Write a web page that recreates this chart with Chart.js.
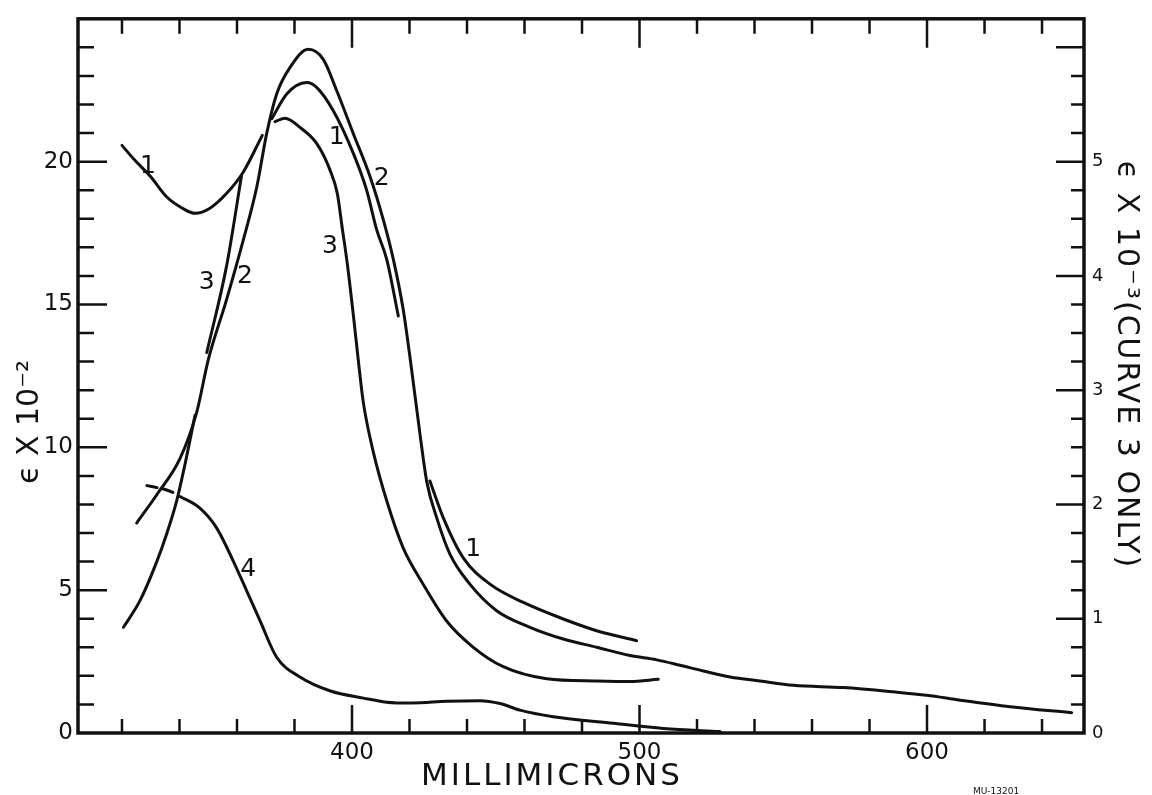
<!DOCTYPE html>
<html>
<head>
<meta charset="utf-8">
<script src="https://cdn.jsdelivr.net/npm/chart.js@4.4.1/dist/chart.umd.min.js"></script>
<style>
  html, body { margin: 0; padding: 0; background: #fff; overflow: hidden; }
  canvas { display: block; }
</style>
</head>
<body>
<canvas id="absChart" width="1152" height="795" style="width:1152px;height:795px"></canvas>
<script>
    'use strict';

    // wavelength (millimicrons) / epsilon x 10^-2
    var c1aNm = [320, 324, 330, 335.5, 341, 345.4, 350.6, 356.4, 362.2, 368.8];
    var c1aEps = [20.57, 20.1, 19.47, 18.77, 18.37, 18.19, 18.37, 18.89, 19.64, 20.92];
    var c1bNm = [372.1, 377.3, 384.2, 387.7, 393.5, 400.5, 405.1, 408.6, 412.1, 416.1];
    var c1bEps = [21.5, 22.37, 22.77, 22.6, 21.78, 20.28, 19.0, 17.61, 16.57, 14.6];
    var c1cNm = [427.1, 431.8, 438.7, 448, 459.6, 473.5, 485.1, 499];
    var c1cEps = [8.82, 7.52, 6.13, 5.21, 4.57, 3.99, 3.58, 3.23];

    var c2Nm = [325.1, 332.1, 340.2, 346, 350, 356.4, 362.2, 366.9, 370.3, 373.8, 378.4, 384.8, 390, 394.7,
        400.5, 406.3, 410.9, 414.4, 417.8, 420.5, 423.7, 426, 429.5, 434.1, 441, 450.3, 461.9, 473.5, 485.1,
        496.7, 506, 514.1, 522.2, 531.5, 541.9, 553.5, 570.9, 588.3, 599.9, 611.5, 628.9, 650.3];
    var c2Eps = [7.35, 8.34, 9.61, 11.23, 13.06, 15.18, 17.26, 19.12, 20.97, 22.37, 23.29, 23.93, 23.58, 22.48,
        20.97, 19.47, 17.96, 16.57, 14.83, 12.9, 10.42, 8.8, 7.52, 6.25, 5.21, 4.28, 3.7, 3.29, 3.0,
        2.71, 2.56, 2.37, 2.17, 1.96, 1.82, 1.67, 1.59, 1.44, 1.32, 1.15, 0.92, 0.71];

    // curve 3 is on the right scale (epsilon x 10^-3)
    var c3aNm = [320.5, 326.3, 332.1, 335.5, 339, 341.9, 345.4];
    var c3aEps = [0.925, 1.16, 1.5, 1.74, 2.03, 2.35, 2.78];
    var c3bNm = [349.5, 356.4, 361.6];
    var c3bEps = [3.33, 4.09, 4.88];
    var c3cNm = [373.2, 376.7, 381.9, 387.7, 392.3, 394.9, 396.6, 398.4, 400.5, 402.2, 403.9, 407.4, 412.1,
        417.8, 424.8, 432.9, 442.2, 452.6, 467.7, 485.1, 496.7, 506.5];
    var c3cEps = [5.35, 5.38, 5.3, 5.16, 4.93, 4.72, 4.42, 4.1, 3.65, 3.26, 2.9, 2.46, 2.03,
        1.62, 1.3, 0.98, 0.75, 0.58, 0.475, 0.455, 0.45, 0.47];

    var c4Nm = [328.7, 332.2, 333.9, 337.7, 340.2, 347.1, 352.9, 358.7, 363.4, 368, 373.8, 381.9, 392.5, 404,
        412, 421, 433, 444.5, 451.5, 458.4, 470, 490.9, 508.3, 528];
    var c4Eps = [8.66, 8.59, 8.56, 8.42, 8.28, 7.87, 7.18, 6.02, 4.97, 3.93, 2.65, 1.96, 1.47, 1.22,
        1.08, 1.05, 1.11, 1.13, 1.03, 0.8, 0.57, 0.34, 0.16, 0.05];

    // curve number tags written beside the lines
    var tagText = ['1', '1', '1', '2', '2', '3', '3', '4'];
    var tagNm = [329, 394.7, 442.2, 410.3, 362.8, 349.5, 392.3, 363.9];
    var tagEps = [19.83, 20.86, 6.42, 19.41, 15.99, 15.76, 17.03, 5.73];

    // axes
    var xRange = [304.7, 654.6];
    var xLabels = [400, 500, 600];
    var xTicks = [320, 340, 360, 380, 400, 420, 440, 460, 480, 500, 520, 540, 560, 580, 600, 620, 640];
    var yLabels = [0, 5, 10, 15, 20];
    var y2Labels = [0, 1, 2, 3, 4, 5];

    var INK = '#111';
    var FONT = '"DejaVu Sans", sans-serif';

    function pts(xs, ys) {
        return xs.map(function (x, i) { return { x: x, y: ys[i] }; });
    }

    function curve(xs, ys, axis, extra) {
        var ds = {
            data: pts(xs, ys),
            yAxisID: axis,
            borderColor: INK,
            borderWidth: 3,
            pointRadius: 0,
            fill: false,
            cubicInterpolationMode: 'monotone',
            borderCapStyle: 'round',
            borderJoinStyle: 'round'
        };
        if (extra) Object.keys(extra).forEach(function (k) { ds[k] = extra[k]; });
        return ds;
    }

    function fixedTicks(values) {
        return function (scale) {
            scale.ticks = values.map(function (v) { return { value: v }; });
        };
    }

    // inward tick marks, frame, curve tags and axis titles
    var decor = {
        id: 'decor',
        afterDatasetsDraw: function (chart) {
            var ctx = chart.ctx, a = chart.chartArea, s = chart.scales;
            var i, p, len;
            ctx.save();
            ctx.strokeStyle = INK;
            ctx.lineWidth = 2.5;
            ctx.beginPath();
            xTicks.forEach(function (v) {
                var px = s.x.getPixelForValue(v);
                var major = xLabels.indexOf(v) >= 0;
                ctx.moveTo(px, a.bottom); ctx.lineTo(px, a.bottom - (major ? 28 : 14));
                ctx.moveTo(px, a.top); ctx.lineTo(px, a.top + (major ? 29 : 15));
            });
            for (i = 1; i < 25; i++) {
                p = s.y.getPixelForValue(i);
                len = i % 5 === 0 ? 29 : 16;
                ctx.moveTo(a.left, p); ctx.lineTo(a.left + len, p);
            }
            for (i = 1; i < 25; i++) {
                p = s.y2.getPixelForValue(i * 0.25);
                len = i % 4 === 0 ? 28 : 13;
                ctx.moveTo(a.right, p); ctx.lineTo(a.right - len, p);
            }
            ctx.stroke();

            ctx.lineWidth = 3.5;
            ctx.strokeRect(a.left, a.top, a.width, a.height);

            ctx.fillStyle = INK;
            ctx.textAlign = 'center';
            ctx.textBaseline = 'middle';
            ctx.font = '25px ' + FONT;
            tagText.forEach(function (t, k) {
                ctx.fillText(t, s.x.getPixelForValue(tagNm[k]), s.y.getPixelForValue(tagEps[k]));
            });

            // x title
            ctx.font = '31px ' + FONT;
            ctx.letterSpacing = '3px';
            ctx.fillText('MILLIMICRONS', 552, 777);

            // left title
            ctx.save();
            ctx.translate(30, 422);
            ctx.rotate(-Math.PI / 2);
            ctx.font = '30px ' + FONT;
            ctx.letterSpacing = '0px';
            ctx.fillText('ϵ X 10⁻²', 0, 0);
            ctx.restore();

            // right title
            ctx.save();
            ctx.translate(1126, 365);
            ctx.rotate(Math.PI / 2);
            ctx.font = '30px ' + FONT;
            ctx.letterSpacing = '2px';
            ctx.fillText('ϵ X 10⁻³(CURVE 3 ONLY)', 0, 0);
            ctx.restore();

            ctx.letterSpacing = '0px';
            ctx.font = '9px ' + FONT;
            ctx.textBaseline = 'top';
            ctx.fillText('MU-13201', 996, 787);
            ctx.restore();
        }
    };

    var chart = new Chart(document.getElementById('absChart'), {
        type: 'line',
        data: {
            datasets: [
                curve(c1aNm, c1aEps, 'y'),
                curve(c1bNm, c1bEps, 'y'),
                curve(c1cNm, c1cEps, 'y'),
                curve(c2Nm, c2Eps, 'y'),
                curve(c3aNm, c3aEps, 'y2'),
                curve(c3bNm, c3bEps, 'y2'),
                curve(c3cNm, c3cEps, 'y2'),
                curve(c4Nm, c4Eps, 'y', {
                    // first stretch of curve 4 is drawn broken
                    segment: {
                        borderColor: function (ctx) {
                            return (ctx.p0DataIndex === 1 || ctx.p0DataIndex === 3) ? 'rgba(0,0,0,0)' : undefined;
                        }
                    }
                })
            ]
        },
        options: {
            responsive: false,
            devicePixelRatio: 1,
            animation: false,
            layout: { padding: { top: 14, left: 0, right: 0, bottom: 0 } },
            plugins: { legend: { display: false }, tooltip: { enabled: false } },
            scales: {
                x: {
                    type: 'linear',
                    min: xRange[0],
                    max: xRange[1],
                    afterBuildTicks: fixedTicks(xLabels),
                    afterFit: function (scale) { scale.height = 62; },
                    grid: { display: false, drawTicks: false },
                    border: { display: false },
                    ticks: { color: INK, font: { family: FONT, size: 23 }, padding: 6, maxRotation: 0 }
                },
                y: {
                    type: 'linear',
                    position: 'left',
                    min: 0,
                    max: 25,
                    afterBuildTicks: fixedTicks(yLabels),
                    afterFit: function (scale) { scale.width = 78; },
                    grid: { display: false, drawTicks: false },
                    border: { display: false },
                    ticks: { color: INK, font: { family: FONT, size: 23 }, padding: 5 }
                },
                y2: {
                    type: 'linear',
                    position: 'right',
                    min: 0,
                    max: 6.25,
                    afterBuildTicks: fixedTicks(y2Labels),
                    afterFit: function (scale) { scale.width = 68; },
                    grid: { display: false, drawTicks: false },
                    border: { display: false },
                    ticks: { color: INK, font: { family: FONT, size: 18 }, padding: 8 }
                }
            }
        },
        plugins: [decor]
    });
</script>
</body>
</html>
